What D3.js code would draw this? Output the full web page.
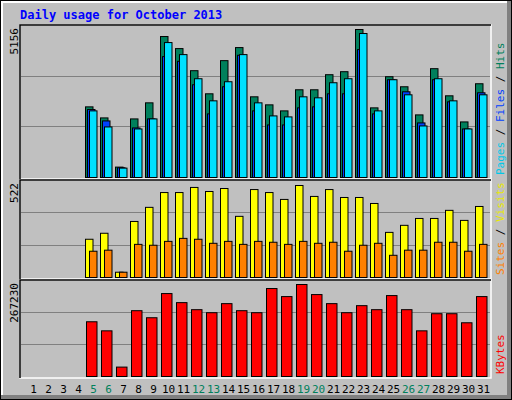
<!DOCTYPE html>
<html><head><meta charset="utf-8">
<script src="https://cdn.jsdelivr.net/npm/d3@7.9.0/dist/d3.min.js"></script>
<style>body{margin:0;background:#fff}svg{display:block}</style>
</head><body>
<svg id="chart" width="512" height="400"></svg>
<script>
const days = d3.range(1, 32);
const weekends = [5, 6, 12, 13, 19, 20, 26, 27];
const hits  = [0,0,0,0,2461,2076,362,2041,2601,4911,4491,3721,2916,4071,4526,2811,2531,2321,3056,3056,3581,3686,5156,2426,3511,3161,2181,3791,2846,1936,3266];
const files = [0,0,0,0,2368,1971,338,1726,2041,4211,4048,3231,2216,3161,4258,2321,1831,1831,2426,2461,2916,2916,4456,2216,3406,2986,1901,3406,2636,1691,2951];
const pages = [0,0,0,0,2321,1761,327,1691,2041,4701,4281,3441,2671,3336,4281,2601,2146,2111,2811,2776,3301,3441,5016,2321,3406,2881,1796,3441,2671,1691,2881];
const visits = [0,0,0,0,217,251,30,318,398,482,482,511,488,505,347,499,482,443,522,460,499,454,454,420,256,296,335,335,381,324,403];
const sites  = [0,0,0,0,149,155,30,188,183,205,222,217,194,205,188,205,200,188,205,194,200,149,183,194,126,155,155,200,200,149,188];
const kbytes = [0,0,0,0,158974,132641,27308,191159,170678,240899,214566,194085,185307,211640,191159,185307,255529,232121,267230,237973,211640,185307,205788,194085,235047,194085,132641,182381,182381,156048,232121];

const svg = d3.select('#chart');
const mono = 'DejaVu Sans Mono, monospace';

// frame
svg.append('rect').attr('x', 0).attr('y', 0).attr('width', 512).attr('height', 400).attr('fill', '#000');
svg.append('rect').attr('x', 1).attr('y', 1).attr('width', 510).attr('height', 398).attr('fill', '#808080');
svg.append('rect').attr('x', 1).attr('y', 1).attr('width', 506).attr('height', 394).attr('fill', '#fff');
svg.append('rect').attr('x', 3).attr('y', 3).attr('width', 504).attr('height', 392).attr('fill', '#c0c0c0');

svg.append('text').attr('x', 20).attr('y', 19)
  .attr('font-family', mono).attr('font-weight', 'bold').attr('font-size', 12)
  .attr('fill', '#0000ff').text('Daily usage for October 2013');

const x = d3.scaleBand().domain(days).range([25, 490]).paddingInner(0);

function panel(top, bottom, base, maxY, maxVal, label, series, legend) {
  svg.append('rect').attr('x', 20).attr('y', top).attr('width', 471).attr('height', bottom - top)
    .attr('fill', '#c0c0c0').attr('stroke', '#fff').attr('stroke-width', 1.5);
  svg.append('path').attr('d', `M20,${bottom}V${top}H491`).attr('stroke', '#000').attr('stroke-width', 1.5).attr('fill', 'none');
  const y = d3.scaleLinear().domain([0, maxVal]).range([base, maxY]);
  const h = base - top;
  [1 / 3, 2 / 3].forEach(f => {
    svg.append('line').attr('x1', 21).attr('x2', 490)
      .attr('y1', Math.round(base - h * f) + 0.5).attr('y2', Math.round(base - h * f) + 0.5)
      .attr('stroke', '#808080').attr('stroke-width', 1);
  });
  series.forEach(s => {
    svg.append('g').selectAll('rect').data(days.filter(d => s.data[d - 1] > 0)).join('rect')
      .attr('x', d => x(d) + s.dx + 0.5).attr('width', s.w)
      .attr('y', d => y(s.data[d - 1]) + 0.5)
      .attr('height', d => base - y(s.data[d - 1]))
      .attr('fill', s.color).attr('stroke', '#000').attr('stroke-width', 1);
  });
  svg.append('text').attr('transform', `translate(18,${top + 3}) rotate(-90)`)
    .attr('text-anchor', 'end').attr('font-family', mono).attr('font-size', 11).attr('fill', '#000')
    .text(label);
  const t = svg.append('text').attr('transform', `translate(504,${bottom - 4}) rotate(-90)`)
    .attr('font-family', mono).attr('font-size', 11);
  legend.forEach((l, i) => {
    if (i) t.append('tspan').attr('fill', '#000').text(' / ');
    t.append('tspan').attr('fill', l[1]).text(l[0]);
  });
}

panel(25, 179, 177, 29, 5156, '5156', [
  { data: hits, color: '#00805c', dx: 0, w: 7.5 },
  { data: files, color: '#0040ff', dx: 2, w: 7.5 },
  { data: pages, color: '#00e0ff', dx: 4, w: 7.5 }
], [['Pages', '#00c8e8'], ['Files', '#0040ff'], ['Hits', '#00805c']]);

panel(180, 279, 277, 185, 522, '522', [
  { data: visits, color: '#ffff00', dx: 0, w: 7.5 },
  { data: sites, color: '#ff8000', dx: 4, w: 7.5 }
], [['Sites', '#ff8000'], ['Visits', '#e8e800']]);

panel(280, 378, 376, 284, 267230, '267230', [
  { data: kbytes, color: '#ff0000', dx: 1, w: 10.5 }
], [['KBytes', '#ff0000']]);

svg.append('g').selectAll('text').data(days).join('text')
  .attr('x', d => x(d) + x.bandwidth() / 2 + 1).attr('y', 393)
  .attr('text-anchor', 'middle').attr('font-family', mono).attr('font-size', 11)
  .attr('fill', d => weekends.includes(d) ? '#00805c' : '#000')
  .text(d => d);
</script>
</body></html>
